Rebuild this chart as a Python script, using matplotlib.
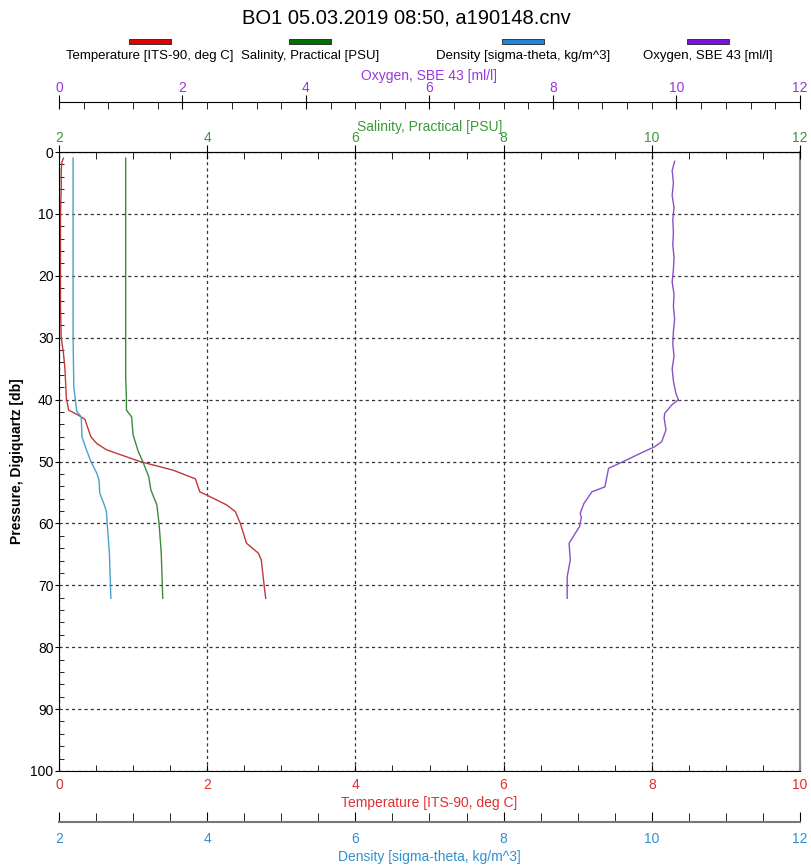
import matplotlib
matplotlib.use("Agg")
import matplotlib.pyplot as plt
from matplotlib.patches import Rectangle
from matplotlib.ticker import MultipleLocator
import numpy as np

plt.rcParams['font.family'] = ['Liberation Sans', 'DejaVu Sans']

title = "BO1 05.03.2019 08:50, a190148.cnv"

# Temperature profile
temp_p = [1.0, 1.6, 3, 6, 10, 15, 20, 25, 30, 32.5, 35, 37.4, 40, 40.4, 41.7, 42.5, 43.2, 46, 47.1, 48.1, 50, 51.4,
          52.8, 54.9, 55.4, 57, 58.1, 60.1, 63.2, 64.8, 65.9, 70.2, 72.1]
temp_v = [0.06, 0.04, 0.03, 0.03, 0.02, 0.02, 0.02, 0.02, 0.03, 0.06, 0.08, 0.09, 0.10, 0.11, 0.13, 0.26, 0.35, 0.43,
          0.51, 0.64, 1.09, 1.54, 1.84, 1.90, 1.99, 2.26, 2.38, 2.45, 2.53, 2.69, 2.73, 2.77, 2.79]

# Salinity profile
sal_p = [1.0, 10, 20, 30, 36.3, 40, 41.7, 42.8, 45.7, 48.4, 50, 52.4, 54.6, 57, 60, 64.8, 72.1]
sal_v = [2.90, 2.90, 2.90, 2.90, 2.90, 2.91, 2.91, 2.98, 3.00, 3.07, 3.13, 3.21, 3.24, 3.32, 3.35, 3.38, 3.40]

# Density profile
den_p = [1.0, 10, 20, 30, 38, 40, 41.9, 42.8, 46, 48.1, 50, 51.9, 53, 55.1, 57.3, 58.1, 60, 64.8, 72.1]
den_v = [2.19, 2.19, 2.19, 2.19, 2.20, 2.22, 2.24, 2.30, 2.31, 2.37, 2.43, 2.51, 2.54, 2.55, 2.62, 2.64, 2.65, 2.68, 2.70]

# Oxygen profile
oxy_p = [1.5, 3, 5, 7, 9, 11, 13, 15, 17, 19, 21, 23, 25, 27, 29, 31, 33, 35, 37, 39, 40, 40.9, 42.2, 43, 44.9,
         46.8, 47.6, 48.7, 50, 51.1, 54.1, 54.9, 56.8, 58.4, 59, 60.5, 63.2, 65.9, 68.6, 72.1]
oxy_v = [9.97, 9.93, 9.95, 9.93, 9.96, 9.94, 9.95, 9.94, 9.96, 9.95, 9.93, 9.96, 9.95, 9.97, 9.95, 9.94, 9.96, 9.93,
         9.95, 9.99, 10.03, 9.92, 9.81, 9.80, 9.83, 9.76, 9.65, 9.41, 9.14, 8.90, 8.84, 8.63, 8.50, 8.44, 8.46, 8.43,
         8.26, 8.28, 8.23, 8.23]

names = ["Temperature [ITS-90, deg C]", "Salinity, Practical [PSU]",
         "Density [sigma-theta, kg/m^3]", "Oxygen, SBE 43 [ml/l]"]
swatch_colors = ["#e00000", "#007000", "#1e88e0", "#7a10e0"]
line_colors = ["#c03838", "#3a8a3a", "#4aa0d0", "#8a50c8"]
label_colors = ["#e03030", "#3a9a3a", "#3090d0", "#9838d8"]

W, H = 812, 866
PX = 0.72  # points per pixel at dpi 100
fig = plt.figure(figsize=(W / 100, H / 100), dpi=100)
L, R, T, B = 59, 800, 152, 771
ax = fig.add_axes([L / W, 1 - B / H, (R - L) / W, (B - T) / H])

fs = 10
# Pressure axis
ax.set_ylim(100, 0)
ax.yaxis.set_major_locator(MultipleLocator(10))
ax.yaxis.set_minor_locator(MultipleLocator(2))
ax.tick_params(axis='y', which='major', direction='out', length=4 * PX, labelsize=fs, pad=1)
ax.tick_params(axis='y', which='minor', direction='in', length=5 * PX)
ax.set_ylabel("Pressure, Digiquartz [db]", fontsize=fs, fontweight='bold', labelpad=5)

# Temperature axis (bottom)
ax.set_xlim(0, 10)
ax.xaxis.set_major_locator(MultipleLocator(2))
ax.xaxis.set_minor_locator(MultipleLocator(0.5))
ax.tick_params(axis='x', which='both', direction='in', length=6 * PX, labelsize=fs, labelcolor=label_colors[0], pad=5)
ax.set_xlabel(names[0], fontsize=fs, color=label_colors[0], labelpad=3)
ax.plot(temp_v, temp_p, color=line_colors[0], lw=1.0)

ax.grid(True, which='major', color='#333333', linestyle=(0, (2.5, 2.5)), linewidth=0.9)
ax.spines['right'].set_color('#888888')
ax.spines['right'].set_linewidth(1.5)

# Salinity axis (top)
axs = ax.twiny()
axs.set_xlim(2, 12)
axs.xaxis.set_major_locator(MultipleLocator(2))
axs.xaxis.set_minor_locator(MultipleLocator(0.5))
axs.tick_params(axis='x', which='major', direction='inout', length=14 * PX, labelsize=fs, labelcolor=label_colors[1], pad=0)
axs.tick_params(axis='x', which='minor', direction='in', length=7 * PX)
axs.set_xlabel(names[1], fontsize=fs, color=label_colors[1], labelpad=0)
axs.plot(sal_v, sal_p, color=line_colors[1], lw=1.0)
axs.grid(False)
for s in ['right', 'left', 'bottom']:
    axs.spines[s].set_visible(False)

# Oxygen axis (top, offset)
axo = ax.twiny()
axo.set_xlim(0, 12)
axo.spines['top'].set_position(('outward', 50 * PX))
axo.xaxis.set_major_locator(MultipleLocator(2))
axo.xaxis.set_minor_locator(MultipleLocator(0.4))
axo.tick_params(axis='x', which='major', direction='inout', length=14 * PX, labelsize=fs, labelcolor=label_colors[3], pad=0)
axo.tick_params(axis='x', which='minor', direction='in', length=7 * PX)
axo.set_xlabel(names[3], fontsize=fs, color=label_colors[3], labelpad=1)
axo.plot(oxy_v, oxy_p, color=line_colors[3], lw=1.0)
for s in ['right', 'left', 'bottom']:
    axo.spines[s].set_visible(False)

# Density axis (bottom, offset)
axd = ax.twiny()
axd.set_xlim(2, 12)
axd.xaxis.set_ticks_position('bottom')
axd.xaxis.set_label_position('bottom')
axd.spines['bottom'].set_position(('outward', 51 * PX))
axd.spines['bottom'].set_color('#777777')
axd.spines['bottom'].set_linewidth(1.5)
axd.xaxis.set_major_locator(MultipleLocator(2))
axd.xaxis.set_minor_locator(MultipleLocator(0.5))
axd.tick_params(axis='x', which='major', direction='in', length=10 * PX, labelsize=fs, labelcolor=label_colors[2], pad=7)
axd.tick_params(axis='x', which='minor', direction='in', length=9 * PX)
axd.set_xlabel(names[2], fontsize=fs, color=label_colors[2], labelpad=3)
axd.plot(den_v, den_p, color=line_colors[2], lw=1.0)
for s in ['right', 'left', 'top']:
    axd.spines[s].set_visible(False)

# Title
fig.text(0.5, 1 - 18 / H, title, ha='center', va='center', fontsize=14.5)

# Legend
centers = [150, 310, 523, 708]
for cx, nm, c in zip(centers, names, swatch_colors):
    fig.patches.append(Rectangle(((cx - 21) / W, 1 - 43.5 / H), 42 / W, 5 / H, transform=fig.transFigure,
                                 facecolor=c, edgecolor='#222222', linewidth=0.6))
    fig.text(cx / W, 1 - 56 / H, nm, ha='center', va='center', fontsize=9.5)

fig.savefig("out.png", dpi=100)
